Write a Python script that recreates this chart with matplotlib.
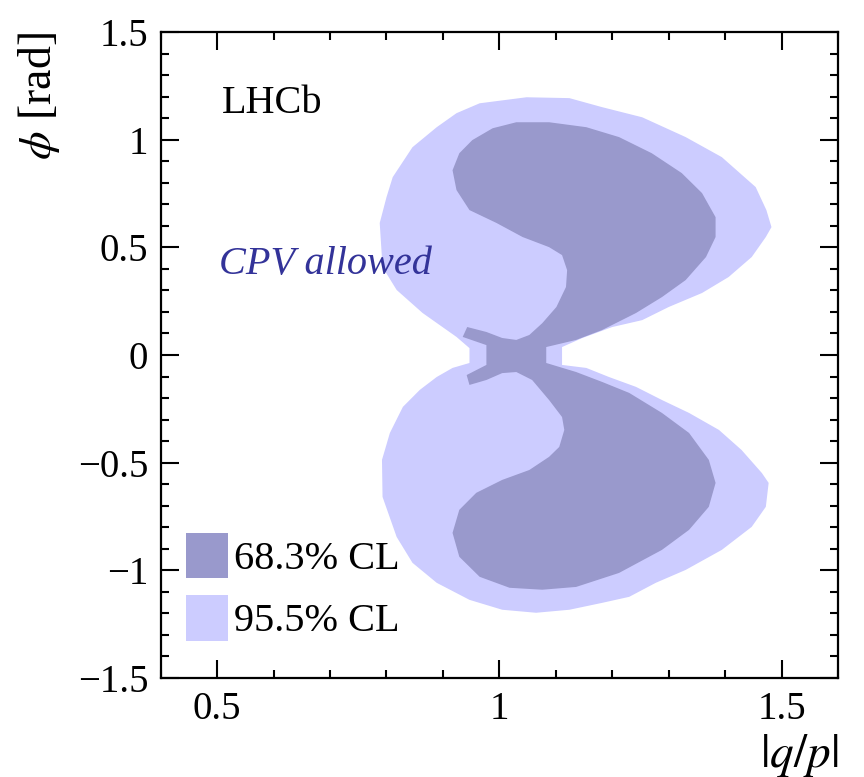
import numpy as np
import matplotlib
matplotlib.use("Agg")
import matplotlib.pyplot as plt
from matplotlib.patches import Polygon, Patch

plt.rcParams['font.family'] = ['Liberation Serif', 'DejaVu Serif']
plt.rcParams['mathtext.fontset'] = 'stix'

# 95.5% CL contour boundary (|q/p|, phi)
x95 = [0.947, 0.947, 0.924, 0.864, 0.818, 0.793, 0.788, 0.800, 0.811, 0.846,
       0.889, 0.924, 0.965, 1.048, 1.124, 1.182, 1.253, 1.330, 1.394, 1.454,
       1.473, 1.482, 1.472, 1.447, 1.406, 1.359, 1.300, 1.253, 1.200, 1.147,
       1.111, 1.111,
       1.154, 1.194, 1.242, 1.288, 1.336, 1.389, 1.429, 1.465, 1.477, 1.472,
       1.447, 1.394, 1.330, 1.277, 1.230, 1.182, 1.124, 1.065, 1.005, 0.947,
       0.889, 0.846, 0.818, 0.793, 0.792, 0.806, 0.829, 0.859, 0.889, 0.917]
y95 = [-0.037, 0.032, 0.084, 0.195, 0.302, 0.408, 0.613, 0.733, 0.826, 0.965,
       1.058, 1.123, 1.169, 1.197, 1.193, 1.151, 1.104, 1.012, 0.919, 0.780,
       0.673, 0.594, 0.548, 0.455, 0.362, 0.288, 0.223, 0.162, 0.130, 0.079,
       0.037, -0.046,
       -0.060, -0.102, -0.148, -0.209, -0.269, -0.348, -0.441, -0.548, -0.594, -0.705,
       -0.798, -0.905, -0.998, -1.058, -1.123, -1.151, -1.183, -1.197, -1.183, -1.137,
       -1.058, -0.965, -0.845, -0.659, -0.487, -0.362, -0.241, -0.162, -0.102, -0.060]

# 68.3% CL contour boundary
x68 = [0.935, 0.943, 0.977, 1.005, 1.030, 1.053, 1.076, 1.101, 1.118, 1.120,
       1.111, 1.088, 1.041, 0.995, 0.947, 0.924, 0.917, 0.929, 0.952, 0.988,
       1.030, 1.088, 1.154, 1.212, 1.270, 1.323, 1.359, 1.383, 1.383, 1.366,
       1.330, 1.288, 1.242, 1.182, 1.136, 1.083, 1.083,
       1.136, 1.182, 1.230, 1.288, 1.336, 1.371, 1.383, 1.371, 1.336, 1.288,
       1.212, 1.136, 1.076, 1.018, 0.965, 0.929, 0.917, 0.929, 0.959, 1.005,
       1.053, 1.088, 1.106, 1.115, 1.111, 1.088, 1.058, 1.030, 1.005, 0.977,
       0.947, 0.942, 0.977, 0.977]
y68 = [0.084, 0.130, 0.107, 0.079, 0.070, 0.093, 0.148, 0.223, 0.316, 0.394,
       0.464, 0.501, 0.548, 0.613, 0.673, 0.766, 0.858, 0.937, 0.998, 1.053,
       1.081, 1.081, 1.058, 1.012, 0.937, 0.845, 0.752, 0.640, 0.548, 0.455,
       0.348, 0.269, 0.195, 0.116, 0.070, 0.037, -0.037,
       -0.079, -0.125, -0.176, -0.269, -0.362, -0.487, -0.594, -0.705, -0.812, -0.905,
       -1.012, -1.077, -1.090, -1.081, -1.030, -0.937, -0.826, -0.719, -0.640, -0.580,
       -0.534, -0.473, -0.427, -0.348, -0.288, -0.209, -0.116, -0.079, -0.084, -0.116,
       -0.139, -0.093, -0.046, 0.046]

col68 = '#9999cc'
col95 = '#ccccff'

fig = plt.figure(figsize=(8.64, 7.77), dpi=100)
ax = fig.add_axes([0.186, 0.1274, 0.784, 0.8314])

ax.add_patch(Polygon(np.column_stack([x95, y95]), closed=True, fc=col95, ec='none'))
ax.add_patch(Polygon(np.column_stack([x68, y68]), closed=True, fc=col68, ec='none'))

ax.set_xlim(0.4, 1.6)
ax.set_ylim(-1.5, 1.5)
ax.set_xticks([0.5, 1.0, 1.5])
ax.set_xticklabels(['0.5', '1', '1.5'])
ax.set_yticks([-1.5, -1, -0.5, 0, 0.5, 1, 1.5])
ax.set_yticklabels(['\u22121.5', '\u22121', '\u22120.5', '0', '0.5', '1', '1.5'])
ax.set_xticks(np.arange(0.4, 1.61, 0.1), minor=True)
ax.set_yticks(np.arange(-1.5, 1.51, 0.1), minor=True)
ax.tick_params(which='both', direction='in', top=True, right=True, width=1.5, labelsize=28)
ax.tick_params(which='major', length=13, pad=9)
ax.tick_params(which='minor', length=6)
for s in ax.spines.values():
    s.set_linewidth(1.6)

# axis titles, ROOT style (aligned to the axis ends)
ax.text(1.0, -0.083, '$|q/p|$', transform=ax.transAxes, fontsize=34,
        ha='right', va='top')
ax.text(-0.146, 1.0, '$\\phi$ [rad]', transform=ax.transAxes, fontsize=33,
        rotation=90, rotation_mode='anchor', ha='right', va='bottom')

ax.text(0.509, 1.17, 'LHCb', fontsize=29, va='center', ha='left')
ax.text(0.503, 0.42, 'CPV allowed', fontsize=29, style='italic', color='#333399',
        va='center', ha='left')

handles = [Patch(fc=col68, ec='none', label='68.3% CL'),
           Patch(fc=col95, ec='none', label='95.5% CL')]
ax.legend(handles=handles, loc='lower left', bbox_to_anchor=(0.037, 0.058), frameon=False,
          fontsize=29, handlelength=1.05, handleheight=1.35, handletextpad=0.15,
          labelspacing=0.43, borderaxespad=0, borderpad=0)

fig.savefig('out.png', dpi=100)
